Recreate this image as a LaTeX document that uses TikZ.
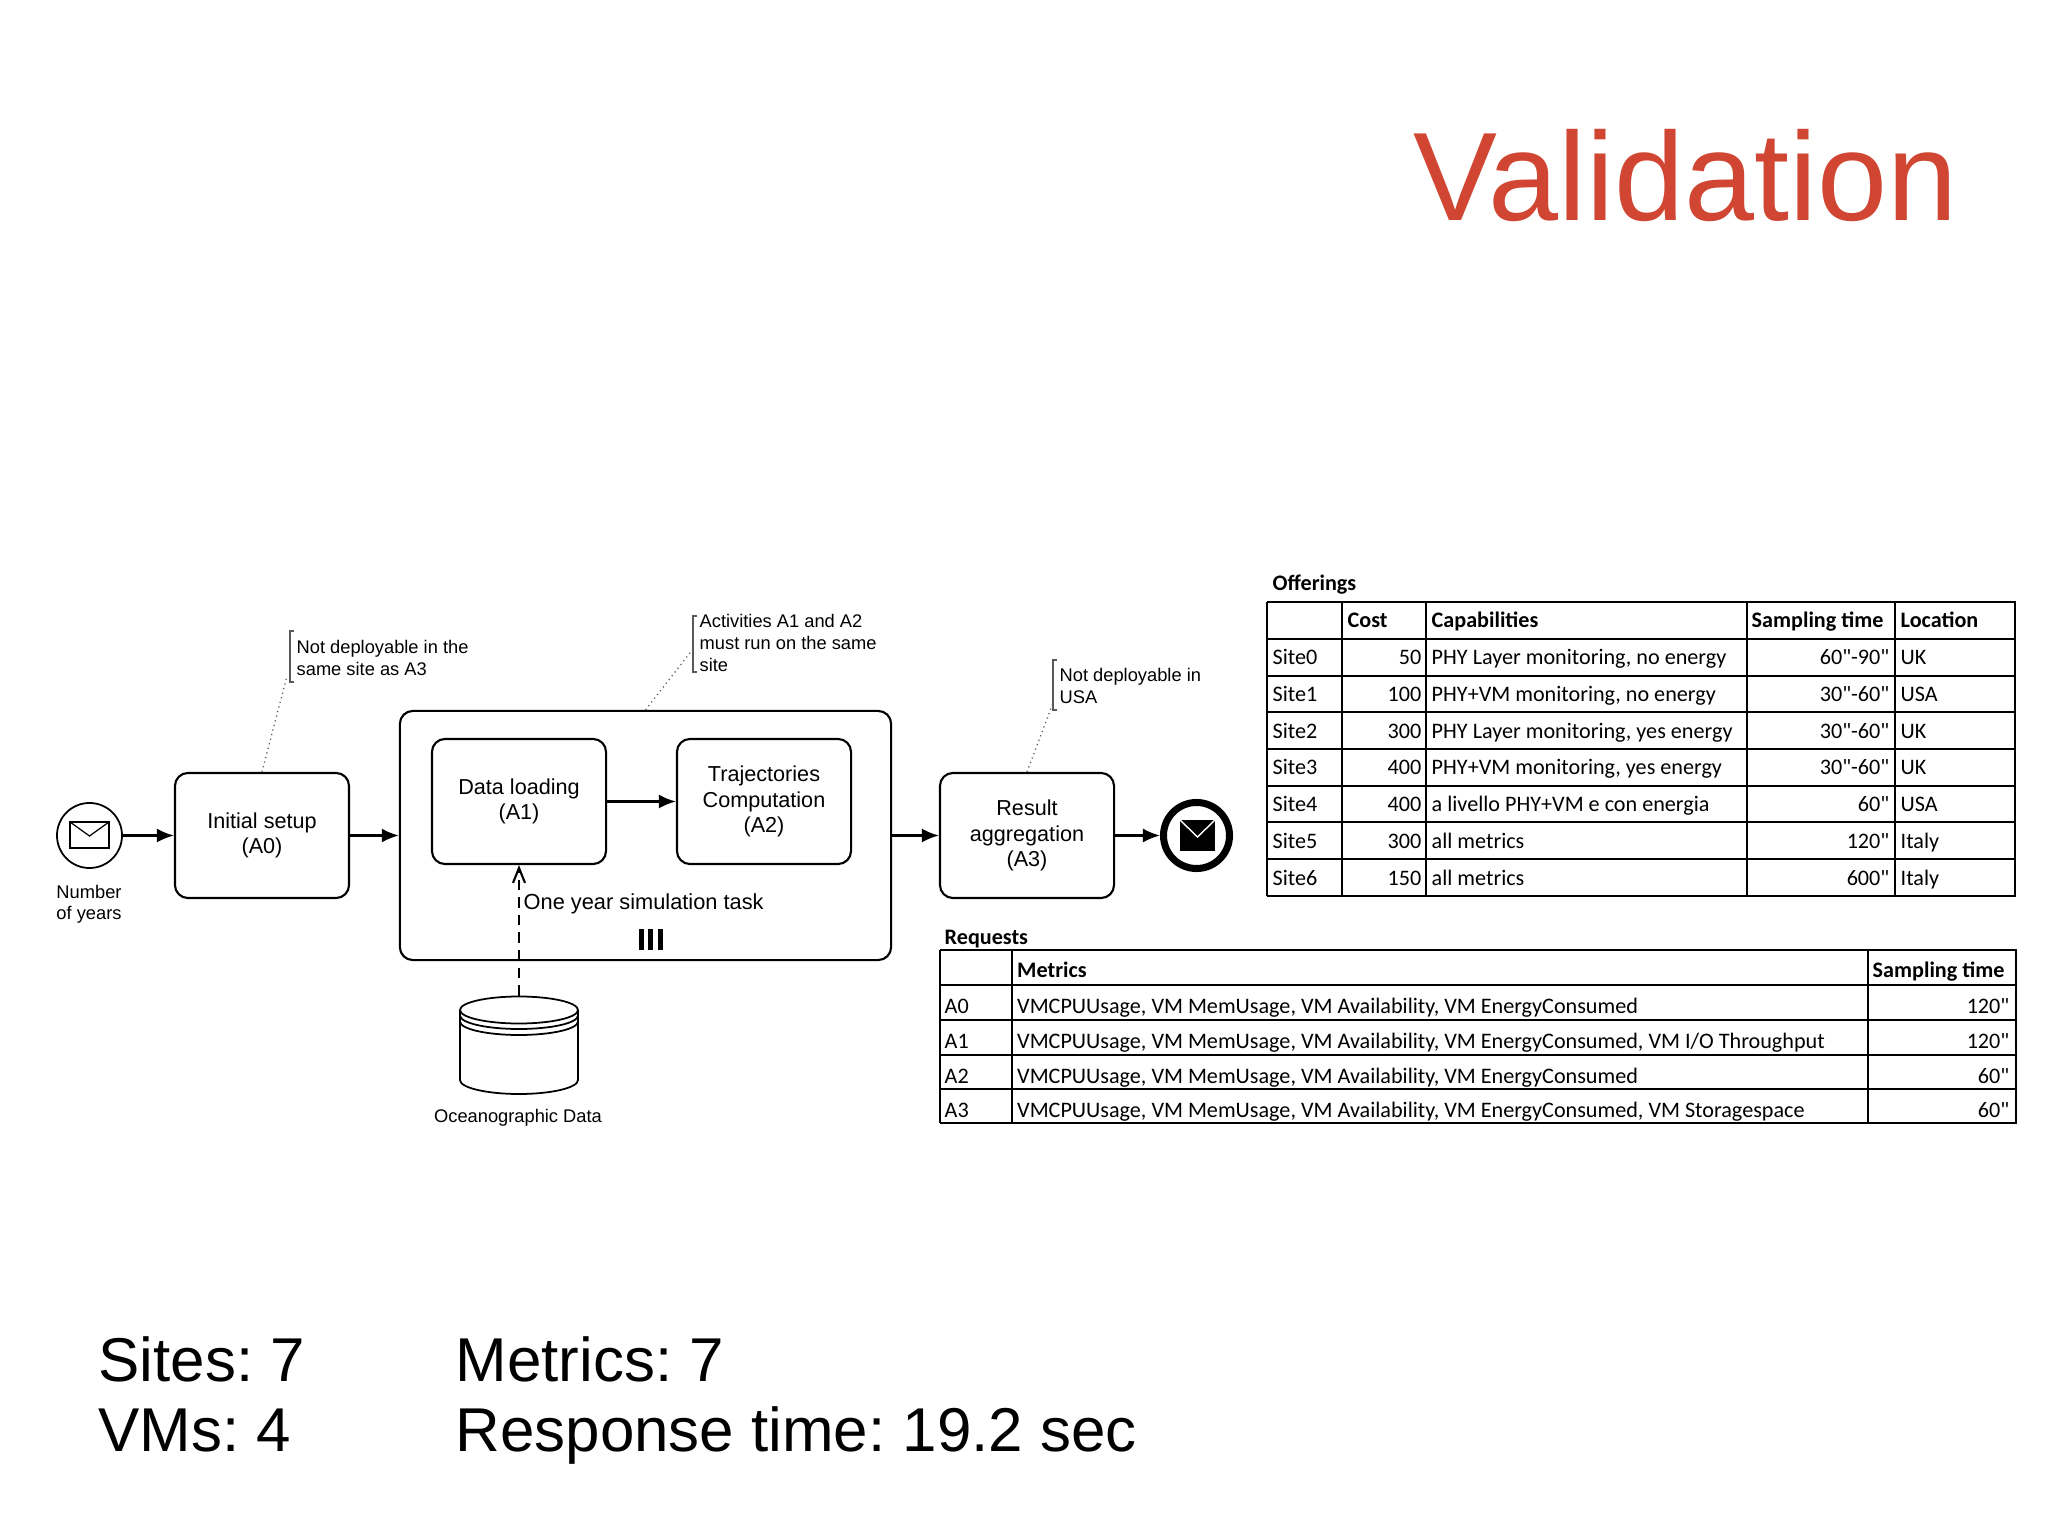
\documentclass[tikz,border=0pt]{standalone}
\usepackage{fontspec}
\setmainfont{Liberation Sans}
\newfontfamily\tablefont{Carlito}
\usetikzlibrary{arrows.meta}
\definecolor{titlered}{RGB}{208,70,50}
\tikzset{
	task/.style={draw, line width=0.6pt, rounded corners=1.3mm, align=center, minimum width=1.74cm, minimum height=1.25cm, font=\fontsize{6.15}{7.25}\selectfont},
	flow/.style={line width=0.6pt, -{Latex[length=1.7mm,width=1.4mm]}},
	note/.style={anchor=west, align=left, inner sep=0pt, font=\fontsize{5.2}{6.3}\selectfont},
	dots/.style={line width=0.35pt, densely dotted, gray!70!black},
	bracket/.style={line width=0.4pt, gray!70!black},
	cell/.style={inner sep=0pt, text height=4.6pt, text depth=1.3pt, font=\tablefont\fontsize{6.3}{7}\selectfont},
	cellL/.style={cell, anchor=west},
	cellR/.style={cell, anchor=east},
	head/.style={cellL, font=\tablefont\bfseries\fontsize{6.3}{7}\selectfont},
	big/.style={anchor=base west, inner sep=0pt, font=\frenchspacing\fontsize{17.6}{21}\selectfont},
}
\begin{document}
\begin{tikzpicture}[x=0.01cm,y=-0.01cm]
\useasboundingbox (0,0) rectangle (2048,1537);

\node[inner sep=0pt, anchor=east, titlered, font=\fontsize{35.8}{42}\selectfont] (title) at (1958,176) {Validation};

% process
\node[draw, circle, line width=0.5pt, minimum size=0.65cm, inner sep=0pt] (start) at (89.5,835.5) {};
\draw[line width=0.35pt] (70,822) rectangle (109,848);
\draw[line width=0.35pt] (70,822) -- (89.5,836) -- (109,822);
\node[inner sep=0pt, align=center, font=\fontsize{5.2}{6.1}\selectfont] (startlabel) at (89,904) {Number\\of years};

\node[task] (A0) at (262,835.5) {Initial setup\\(A0)};
\node[draw, line width=0.6pt, rounded corners=1.3mm, minimum width=4.91cm, minimum height=2.49cm] (loop) at (645.5,835.5) {};
\node[task] (A1) at (519,801.5) {Data loading\\(A1)};
\node[task] (A2) at (764,801.5) {Trajectories\\Computation\\(A2)};
\node[task] (A3) at (1027,835.5) {Result\\aggregation\\(A3)};
\node[draw, circle, line width=2pt, minimum size=0.66cm, inner sep=0pt] (end) at (1196.5,835.5) {};
\fill (1180,820) rectangle (1215,851);
\draw[white, line width=0.4pt] (1180,820) -- (1197.5,837) -- (1215,820);

\node[inner sep=0pt, anchor=west, font=\fontsize{6.2}{7.2}\selectfont] (looplabel) at (523,903.5) {One year simulation task};
\foreach \x in {641,650.5,660} {
	\fill (\x-2.5,929) rectangle (\x+2.5,950);
}

\draw[flow] (start) -- (A0);
\draw[flow] (A0) -- (loop);
\draw[flow] (A1) -- (A2);
\draw[flow] (loop) -- (A3);
\draw[flow] (A3) -- (end);

% data store
\draw[line width=0.5pt] (460,1010) -- (460,1080) arc[start angle=180,end angle=0,x radius=59,y radius=14] -- (578,1010);
\draw[line width=0.5pt] (519,1010) ellipse[x radius=59,y radius=13.5];
\foreach \y in {1015.5,1021.5} {
	\draw[line width=0.5pt] (460,\y) arc[start angle=180,end angle=0,x radius=59,y radius=13.5];
}
\node[inner sep=0pt, minimum width=1.18cm, minimum height=0.97cm] (store) at (519,1045) {};
\node[inner sep=0pt, font=\fontsize{5.2}{6.1}\selectfont] (storelabel) at (518,1118) {Oceanographic Data};
\draw[line width=0.6pt, densely dashed, -{Straight Barb[length=1.5mm,width=1.2mm]}] (store.north) -- (A1.south);

% annotations
\foreach \n/\bx/\ya/\yb/\tx/\ty/\txt/\from/\tox/\toy in {
	0/290/631/682/296/658/{Not deployable in the\\same site as A3}/{A0.north}/287/676,
	1/693/616/672/699/643/{Activities A1 and A2\\must run on the same\\site}/{loop.north}/693/649,
	2/1053/660/710/1059/686/{Not deployable in\\USA}/{A3.north}/1053/703} {
	\draw[bracket] (\bx+4,\ya) -- (\bx,\ya) -- (\bx,\yb) -- (\bx+4,\yb);
	\node[note] (note\n) at (\tx,\ty) {\txt};
	\coordinate (noteend\n) at (\tox,\toy);
	\draw[dots] (\from) -- (noteend\n);
}

% offerings
\node[head] (offerings) at (1272,585) {Offerings};
\begin{scope}[line width=0.7pt]
\foreach \y in {602,639,676,712,749,786,822,859,896} {
	\draw (1267,\y) -- (2016,\y);
}
\foreach \x in {1267,1342,1426,1747,1895,2015} {
	\draw (\x,602) -- (\x,896);
}
\end{scope}
\node[head] (ocost) at (1347,622) {Cost};
\node[head] (ocap) at (1431,622) {Capabilities};
\node[head] (osamp) at (1751,622) {Sampling time};
\node[head] (oloc) at (1900,622) {Location};
\foreach \n/\cost/\capab/\samp/\loc in {
	0/50/{PHY Layer monitoring, no energy}/60"-90"/UK,
	1/100/{PHY+VM monitoring, no energy}/30"-60"/USA,
	2/300/{PHY Layer monitoring, yes energy}/30"-60"/UK,
	3/400/{PHY+VM monitoring, yes energy}/30"-60"/UK,
	4/400/{a livello PHY+VM e con energia}/60"/USA,
	5/300/{all metrics}/120"/Italy,
	6/150/{all metrics}/600"/Italy} {
	\node[cellL] (site\n) at (1272,{659+36.7*\n}) {Site\n};
	\node[cellR] (cost\n) at (1422,{659+36.7*\n}) {\cost};
	\node[cellL] (capab\n) at (1431,{659+36.7*\n}) {\capab};
	\node[cellR] (samp\n) at (1890,{659+36.7*\n}) {\samp};
	\node[cellL] (loc\n) at (1900,{659+36.7*\n}) {\loc};
}

% requests
\node[head] (requests) at (944,938.5) {Requests};
\begin{scope}[line width=0.7pt]
\foreach \y in {950,985,1020,1055,1089,1123} {
	\draw (940,\y) -- (2017,\y);
}
\foreach \x in {940,1012,1868,2016} {
	\draw (\x,950) -- (\x,1123);
}
\end{scope}
\node[head] (rmetrics) at (1016.5,972) {Metrics};
\node[head] (rsamp) at (1872,972) {Sampling time};
\foreach \n/\metrics/\samp in {
	0/{VMCPUUsage, VM MemUsage, VM Availability, VM EnergyConsumed}/120",
	1/{VMCPUUsage, VM MemUsage, VM Availability, VM EnergyConsumed, VM I/O Throughput}/120",
	2/{VMCPUUsage, VM MemUsage, VM Availability, VM EnergyConsumed}/60",
	3/{VMCPUUsage, VM MemUsage, VM Availability, VM EnergyConsumed, VM Storagespace}/60"} {
	\node[cellL] (act\n) at (944,{1008+34.7*\n}) {A\n};
	\node[cellL] (metrics\n) at (1016.5,{1008+34.7*\n}) {\metrics};
	\node[cellR] (rsamp\n) at (2010,{1008+34.7*\n}) {\samp};
}

% summary
\node[big] (sites) at (98,1381) {Sites: 7};
\node[big] (vms) at (98,1451.5) {VMs: 4};
\node[big] (metrics) at (455,1381) {Metrics: 7};
\node[big] (response) at (455,1451.5) {Response time: 19.2 sec};

\end{tikzpicture}
\end{document}
